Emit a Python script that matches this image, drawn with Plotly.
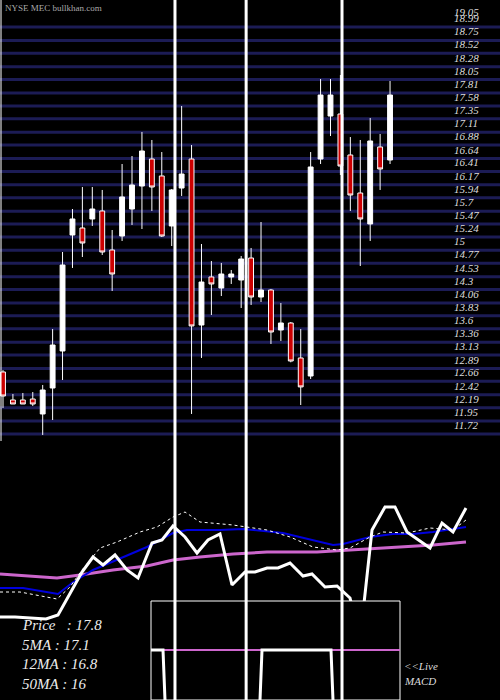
import plotly.graph_objects as go

# --- price candles ---
opens = [12.667, 12.167, 12.167, 12.184, 11.917, 12.381, 13.042, 15.114, 15.239, 15.400,
         15.543, 14.846, 15.096, 15.578, 15.989, 16.471, 16.168, 15.275, 15.953, 16.471,
         13.506, 14.364, 14.167, 14.364, 14.310, 14.703, 14.006, 14.131, 13.417, 13.542,
         12.917, 12.595, 16.471, 17.239, 17.275, 16.543, 15.864, 15.311, 16.686, 16.453]
highs = [12.700, 12.274, 12.292, 12.309, 12.435, 13.435, 14.810, 15.578, 15.971, 15.971,
         15.918, 15.203, 16.382, 16.525, 16.954, 16.811, 16.596, 15.936, 17.418, 16.721,
         14.953, 14.649, 14.614, 14.489, 14.739, 14.882, 15.346, 14.150, 13.899, 13.560,
         13.435, 16.596, 17.900, 17.900, 17.972, 16.864, 16.811, 17.204, 16.918, 17.865]
lows = [12.024, 12.095, 12.095, 12.060, 11.542, 11.809, 12.524, 14.525, 14.721, 15.275,
        14.757, 14.114, 15.007, 15.293, 15.221, 15.543, 15.078, 14.917, 15.811, 11.917,
        12.917, 13.685, 14.024, 14.239, 13.810, 13.864, 13.917, 13.167, 13.221, 12.840,
        12.077, 12.542, 16.382, 16.882, 16.186, 15.543, 14.560, 15.007, 15.918, 16.382]
closes = [12.238, 12.095, 12.095, 12.095, 12.345, 13.149, 14.578, 15.400, 14.971, 15.578,
          14.810, 14.417, 15.793, 16.007, 16.614, 15.971, 15.096, 15.918, 16.203, 13.489,
          14.274, 14.239, 14.417, 14.417, 14.685, 14.006, 14.131, 13.381, 13.542, 12.863,
          12.400, 16.329, 17.614, 17.614, 16.346, 15.828, 15.400, 16.793, 16.293, 17.614]
days = list(range(len(opens)))

price_labels = ["18.99", "18.75", "18.52", "18.28", "18.05", "17.81", "17.58", "17.35", "17.11",
                "16.88", "16.64", "16.41", "16.17", "15.94", "15.7", "15.47", "15.24", "15",
                "14.77", "14.53", "14.3", "14.06", "13.83", "13.6", "13.36", "13.13", "12.89",
                "12.66", "12.42", "12.19", "11.95", "11.72"]

# --- lower indicator panel ---
px_x = [0, 15, 46, 58, 82, 93, 103, 115, 127, 138, 152, 162, 173, 185, 197, 208, 220, 232,
        245, 255, 267, 278, 290, 303, 312, 325, 337, 350, 360, 372, 385, 395, 407, 430, 442,
        453, 466]
px_y = [83, 83, 81, 85, 128, 143, 135, 145, 130, 122, 157, 160, 174, 163, 147, 160, 166, 115,
        128, 128, 132, 132, 137, 124, 126, 113, 114, 102, 60, 170, 193, 193, 168, 152, 177,
        168, 192]
ma5_x = [0, 20, 57, 70, 82, 100, 117, 140, 157, 173, 185, 200, 233, 245, 267, 290, 313, 337,
         350, 370, 383, 407, 430, 453, 466]
ma5_y = [108, 108, 101, 113, 130, 152, 158, 168, 173, 183, 188, 178, 175, 173, 170, 163, 153,
         150, 152, 163, 168, 167, 172, 170, 180]
ma12_x = [0, 23, 58, 72, 93, 117, 147, 173, 187, 220, 243, 283, 333, 343, 370, 393, 413, 433,
          466]
ma12_y = [112, 112, 106, 117, 130, 140, 153, 167, 170, 170, 171, 167, 155, 156, 163, 166, 166,
          168, 173]
ma50_x = [0, 30, 57, 80, 113, 147, 173, 200, 233, 267, 317, 350, 400, 433, 466]
ma50_y = [126, 124, 122, 125, 130, 134, 140, 143, 146, 148, 148, 150, 153, 155, 158]
macd_box_x = [151, 400, 400, 151, 151]
macd_box_y = [99, 99, 0, 0, 99]
macd_sig_x = [151, 400]
macd_sig_y = [50, 50]
macd_x = [151, 163, 165, None, 260, 262, 331, 333]
macd_y = [50, 50, 0, None, 0, 50, 50, 0]

marker_lines = [17.33, 24.5, 34.16]

fig = go.Figure()

fig.add_trace(go.Candlestick(
    x=days, open=opens, high=highs, low=lows, close=closes,
    increasing=dict(line=dict(color="white", width=1), fillcolor="white"),
    decreasing=dict(line=dict(color="white", width=1), fillcolor="#cc0000"),
    whiskerwidth=0, xaxis="x", yaxis="y", showlegend=False,
))

fig.add_trace(go.Scatter(x=ma50_x, y=ma50_y, mode="lines", line=dict(color="#cc66cc", width=3),
                         xaxis="x2", yaxis="y2", showlegend=False))
fig.add_trace(go.Scatter(x=ma12_x, y=ma12_y, mode="lines", line=dict(color="#0000dd", width=2),
                         xaxis="x2", yaxis="y2", showlegend=False))
fig.add_trace(go.Scatter(x=ma5_x, y=ma5_y, mode="lines", line=dict(color="white", width=1, dash="dot"),
                         xaxis="x2", yaxis="y2", showlegend=False))
fig.add_trace(go.Scatter(x=px_x, y=px_y, mode="lines", line=dict(color="white", width=3),
                         xaxis="x2", yaxis="y2", showlegend=False))
fig.add_trace(go.Scatter(x=macd_box_x, y=macd_box_y, mode="lines", fill="toself", fillcolor="black",
                         line=dict(color="white", width=1), xaxis="x2", yaxis="y2", showlegend=False))
fig.add_trace(go.Scatter(x=macd_sig_x, y=macd_sig_y, mode="lines", line=dict(color="#cc66cc", width=2),
                         xaxis="x2", yaxis="y2", showlegend=False))
fig.add_trace(go.Scatter(x=macd_x, y=macd_y, mode="lines", line=dict(color="white", width=3),
                         xaxis="x2", yaxis="y2", showlegend=False))

shapes = []
for v in marker_lines:
    shapes.append(dict(type="line", xref="x", yref="paper", x0=v, x1=v, y0=0, y1=1,
                       line=dict(color="white", width=3), layer="above"))
shapes.append(dict(type="line", xref="paper", yref="paper", x0=0.002, x1=0.002, y0=0.37, y1=1,
                   line=dict(color="white", width=1)))
for lab in price_labels:
    v = float(lab) - 0.16
    shapes.append(dict(type="line", xref="paper", yref="y", x0=0, x1=1, y0=v, y1=v,
                       line=dict(color="#1c1c55", width=3), layer="below"))

lab_font = dict(family="Liberation Serif", size=11, color="#dddddd", style="italic")
ann = [dict(x=452, y=float(lab), xref="x2", yref="y", text=lab, showarrow=False, xanchor="left",
            font=lab_font) for lab in price_labels]
ann.append(dict(x=452, y=19.10, xref="x2", yref="y", text="19.05", showarrow=False, xanchor="left",
                font=lab_font))
ann.append(dict(x=3, y=1 - 8 / 700, xref="x2", yref="paper", text="NYSE MEC bullkhan.com",
                showarrow=False, xanchor="left", yanchor="middle",
                font=dict(family="Liberation Serif", size=9, color="#aaaaaa")))
for i, t in enumerate(["Price   : 17.8", "5MA : 17.1", "12MA : 16.8", "50MA : 16"]):
    ann.append(dict(x=20, y=75 - i * 19.5, xref="x2", yref="y2", text=t, showarrow=False,
                    xanchor="left", font=dict(family="Liberation Serif", size=15, color="#eeeeee",
                                              style="italic")))
ann.append(dict(x=402, y=34, xref="x2", yref="y2", text="<<Live", showarrow=False, xanchor="left",
                font=lab_font))
ann.append(dict(x=402, y=19, xref="x2", yref="y2", text="MACD", showarrow=False, xanchor="left",
                font=lab_font))

fig.update_layout(
    width=500, height=700, margin=dict(l=0, r=0, t=0, b=0),
    paper_bgcolor="black", plot_bgcolor="black",
    xaxis=dict(range=[-0.302, 50.08], visible=False, rangeslider=dict(visible=False), domain=[0, 1]),
    yaxis=dict(range=[11.452, 19.3115], domain=[260 / 700, 1], visible=False),
    xaxis2=dict(range=[0, 500], visible=False, anchor="y2", domain=[0, 1]),
    yaxis2=dict(range=[0, 260], domain=[0, 260 / 700], visible=False, anchor="x2"),
    shapes=shapes, annotations=ann,
)

fig.write_html("out.html", config={"displayModeBar": False},
               post_script="document.body.style.margin='0';")
